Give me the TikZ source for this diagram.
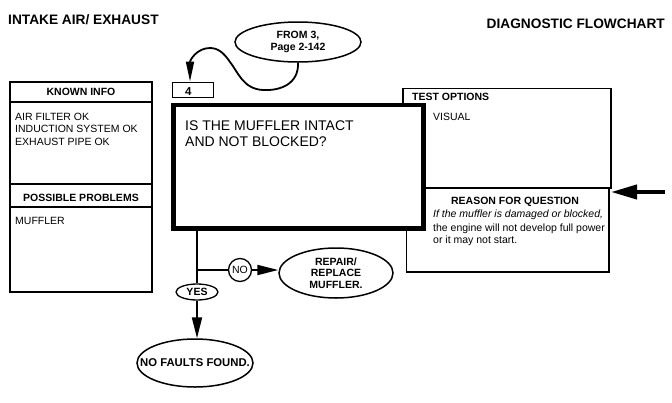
\documentclass[tikz,border=0pt]{standalone}
\usepackage{fontspec}
\setmainfont{Liberation Sans}
\usetikzlibrary{arrows.meta,shapes.geometric}
\begin{document}
\begin{tikzpicture}[x=1pt,y=-1pt,
  box/.style={draw,line width=1.3pt},
  txt/.style={inner sep=0pt,anchor=base west,font=\fontsize{10.5}{12}\selectfont},
  btxt/.style={inner sep=0pt,anchor=base west,font=\fontsize{10.5}{12}\selectfont\bfseries},
  hdr/.style={inner sep=0pt,anchor=base,font=\fontsize{10.5}{12}\selectfont\bfseries},
  ttl/.style={inner sep=0pt,font=\fontsize{13.7}{15}\selectfont\bfseries},
  qtxt/.style={inner sep=0pt,anchor=base west,font=\fontsize{14}{16}\selectfont},
  oval/.style={draw,ellipse,line width=1.5pt,inner sep=0pt,align=center,font=\fontsize{10.5}{11.5}\selectfont\bfseries},
  conn/.style={line width=2pt},
  arr/.style={line width=2pt,-{Triangle[length=21pt,width=10pt]}},
]
\useasboundingbox[fill=white] (0,0) rectangle (672,402);

% titles
\node[ttl,anchor=base west] (title) at (8,24) {INTAKE AIR/ EXHAUST};
\node[ttl,anchor=base east] (chart) at (665,28) {DIAGNOSTIC FLOWCHART};

% known info / possible problems panel
\draw[box] (10,82) rectangle (152,292);
\draw[box] (10,102) -- (152,102);
\draw[box] (10,184) -- (152,184);
\draw[box] (10,207) -- (152,207);
\node[hdr] (known) at (81,95) {KNOWN INFO};
\node[txt] (k1) at (15,120) {AIR FILTER OK};
\node[txt] (k2) at (15,132.5) {INDUCTION SYSTEM OK};
\node[txt] (k3) at (15,145.5) {EXHAUST PIPE OK};
\node[hdr] (poss) at (81,201) {POSSIBLE PROBLEMS};
\node[txt] (p1) at (15,224) {MUFFLER};

% test options / reason boxes
\draw[box] (403,88.5) rectangle (611,188);
\draw[box] (406.5,188) rectangle (609,272);
\draw[line width=1.8pt] (406.5,188) -- (611,188);
\node[btxt] (test) at (412,100.5) {TEST OPTIONS};
\node[txt] (visual) at (433,120) {VISUAL};
\node[hdr] (reason) at (515,204) {REASON FOR QUESTION};
\node[txt,font=\fontsize{10.5}{12}\selectfont\itshape] (r1) at (433,217) {If the muffler is damaged or blocked,};
\node[txt] (r2) at (433,231) {the engine will not develop full power};
\node[txt] (r3) at (433,243.5) {or it may not start.};

% thick arrow from the right
\coordinate (rstart) at (665,192);
\coordinate (rtip) at (611,192);
\draw[line width=4pt,-{Triangle[length=26pt,width=14pt]}] (rstart) -- (rtip);

% question box
\node[draw,fill=white,line width=4.8pt,minimum width=249.7pt,minimum height=123.2pt,inner sep=0pt] (main) at (298.25,166.5) {};
\node[qtxt] (q1) at (185,130) {IS THE MUFFLER INTACT};
\node[qtxt] (q2) at (185,146) {AND NOT BLOCKED?};

% step number box
\node[box,anchor=north west,minimum width=41pt,minimum height=15pt,inner sep=0pt] (box4) at (172,81.5) {};
\node[inner sep=0pt,anchor=base west,font=\fontsize{11.5}{13}\selectfont\bfseries] (num) at (185,95) {4};
\coordinate (tip4) at (190,81.5);

% from ellipse with curved arrow
\node[oval,minimum width=126pt,minimum height=40pt] (from) at (298,42) {FROM 3,\\Page 2-142};
\draw[line width=1.8pt,-{Triangle[length=20pt,width=8pt]}]
  (from.south) .. controls (299,84) and (280,91) .. (263,90)
  .. controls (243,89) and (238,72) .. (230,62)
  .. controls (224,53) and (218,48) .. (210,48)
  .. controls (197,48) and (190,60) .. (tip4);

% branches
\node[oval,minimum width=42pt,minimum height=16pt,line width=1.3pt] (yes) at (197,292) {YES};
\node[draw,circle,line width=1.3pt,minimum size=23pt,inner sep=0pt,font=\fontsize{10.5}{12}\selectfont] (no) at (240,270) {NO};
\node[oval,minimum width=114pt,minimum height=50pt] (repair) at (336,273) {REPAIR/\\REPLACE\\MUFFLER.};
\node[oval,inner xsep=-15pt,minimum width=116pt,minimum height=48pt,font=\fontsize{11.3}{13}\selectfont\bfseries] (nofault) at (195,363) {NO FAULTS FOUND.};

\draw[conn] (yes.north |- main.south) -- (yes.north);
\draw[conn] (yes.north |- no.west) -- (no.west);
\draw[arr] (no.east) -- (no.east -| repair.west);
\draw[arr] (yes.south) -- (yes.south |- nofault.north);
\end{tikzpicture}
\end{document}
